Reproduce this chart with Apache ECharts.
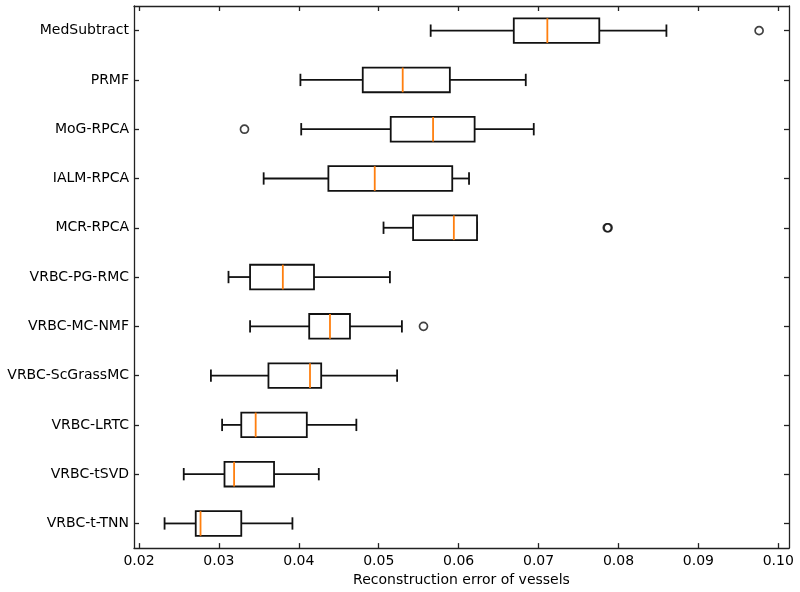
<!DOCTYPE html>
<html>
<head>
<meta charset="utf-8">
<script src="https://cdn.jsdelivr.net/npm/echarts@6/dist/echarts.min.js"></script>
<style>html,body{margin:0;padding:0;background:#fff}#chart{width:800px;height:592px}</style>
</head>
<body>
<div id="chart"></div>
<script>
// Categories, top to bottom
const categories = ['MedSubtract','PRMF','MoG-RPCA','IALM-RPCA','MCR-RPCA','VRBC-PG-RMC','VRBC-MC-NMF','VRBC-ScGrassMC','VRBC-LRTC','VRBC-tSVD','VRBC-t-TNN'];
// Five-number summaries: [lower whisker, Q1, median, Q3, upper whisker]
const lowerWhisker = [0.0565, 0.0402, 0.0403, 0.0356, 0.0506, 0.0312, 0.0339, 0.0290, 0.0304, 0.0256, 0.0232];
const q1Values     = [0.0669, 0.0480, 0.0515, 0.0437, 0.0543, 0.0339, 0.0413, 0.0362, 0.0328, 0.0307, 0.0271];
const medianValues = [0.0711, 0.0530, 0.0568, 0.0495, 0.0594, 0.0380, 0.0439, 0.0414, 0.0346, 0.0319, 0.0277];
const q3Values     = [0.0776, 0.0589, 0.0620, 0.0592, 0.0623, 0.0419, 0.0464, 0.0428, 0.0410, 0.0369, 0.0328];
const upperWhisker = [0.0860, 0.0684, 0.0694, 0.0613, 0.0623, 0.0514, 0.0529, 0.0523, 0.0472, 0.0425, 0.0392];
// Outliers: [category, value]
const outliers = [['MedSubtract', 0.0976], ['MoG-RPCA', 0.0332], ['MCR-RPCA', 0.0787], ['MCR-RPCA', 0.0786], ['VRBC-MC-NMF', 0.0556]];
const xTicks = [0.02, 0.03, 0.04, 0.05, 0.06, 0.07, 0.08, 0.09, 0.10];
const xMin = 0.019375, xMax = 0.10134;

const boxData = categories.map((c, i) => [i, lowerWhisker[i], q1Values[i], medianValues[i], q3Values[i], upperWhisker[i]]);

const chart = echarts.init(document.getElementById('chart'), null, {renderer: 'canvas'});
const FONT = 'DejaVu Sans';
const axisLineStyle = {color: '#222', width: 1.3};

function renderBox(params, api) {
  const yi = api.value(0);
  const p = [1,2,3,4,5].map(k => api.coord([api.value(k), yi]));
  const band = api.size([0, 1])[1];
  const h = band * 0.5, hh = h / 2, ch = h / 4;
  const y = p[0][1];
  const lw = 1.8;
  const black = {stroke: '#111', lineWidth: lw, fill: null};
  return {
    type: 'group',
    children: [
      {type: 'line', shape: {x1: p[0][0], y1: y, x2: p[1][0], y2: y}, style: black},
      {type: 'line', shape: {x1: p[3][0], y1: y, x2: p[4][0], y2: y}, style: black},
      {type: 'line', shape: {x1: p[0][0], y1: y - ch, x2: p[0][0], y2: y + ch}, style: black},
      {type: 'line', shape: {x1: p[4][0], y1: y - ch, x2: p[4][0], y2: y + ch}, style: black},
      {type: 'rect', shape: {x: p[1][0], y: y - hh, width: p[3][0] - p[1][0], height: h}, style: {stroke: '#111', lineWidth: lw, fill: '#fff'}},
      {type: 'line', shape: {x1: p[2][0], y1: y - hh, x2: p[2][0], y2: y + hh}, style: {stroke: '#ff7f0e', lineWidth: lw}}
    ]
  };
}

chart.setOption({
  animation: false,
  backgroundColor: '#fff',
  grid: {left: 134, right: 11, top: 6, bottom: 43, containLabel: false},
  xAxis: [{
    type: 'value', min: xMin, max: xMax, position: 'bottom',
    name: 'Reconstruction error of vessels', nameLocation: 'middle', nameGap: 24,
    nameTextStyle: {fontFamily: FONT, fontSize: 14, color: '#000'},
    axisLine: {show: true, lineStyle: axisLineStyle},
    axisTick: {show: true, inside: true, length: 5, customValues: xTicks, lineStyle: axisLineStyle},
    axisLabel: {show: true, customValues: xTicks, margin: 6, fontFamily: FONT, fontSize: 14, color: '#000', formatter: v => v.toFixed(2)},
    splitLine: {show: false}
  }, {
    type: 'value', min: xMin, max: xMax, position: 'top',
    axisLine: {show: true, onZero: false, lineStyle: axisLineStyle},
    axisTick: {show: true, inside: true, length: 5, customValues: xTicks, lineStyle: axisLineStyle},
    axisLabel: {show: false},
    splitLine: {show: false}
  }],
  yAxis: [{
    type: 'category', data: categories, inverse: true, position: 'left',
    axisLine: {show: true, onZero: false, lineStyle: axisLineStyle},
    axisTick: {show: true, inside: true, length: 5, alignWithLabel: true, lineStyle: axisLineStyle},
    axisLabel: {margin: 5, fontFamily: FONT, fontSize: 14, color: '#000'},
    splitLine: {show: false}
  }, {
    type: 'category', data: categories, inverse: true, position: 'right',
    axisLine: {show: true, onZero: false, lineStyle: axisLineStyle},
    axisTick: {show: true, inside: true, length: 5, alignWithLabel: true, lineStyle: axisLineStyle},
    axisLabel: {show: false},
    splitLine: {show: false}
  }],
  series: [{
    type: 'custom',
    xAxisIndex: 0, yAxisIndex: 0,
    renderItem: renderBox,
    encode: {x: [1,2,3,4,5], y: 0},
    data: boxData,
    z: 2
  }, {
    type: 'scatter',
    xAxisIndex: 0, yAxisIndex: 0,
    symbol: 'circle', symbolSize: 8,
    itemStyle: {color: 'rgba(255,255,255,0)', borderColor: '#111', borderWidth: 1.7},
    data: outliers.map(o => [o[1], o[0]]),
    z: 3
  }]
});
</script>
</body>
</html>
